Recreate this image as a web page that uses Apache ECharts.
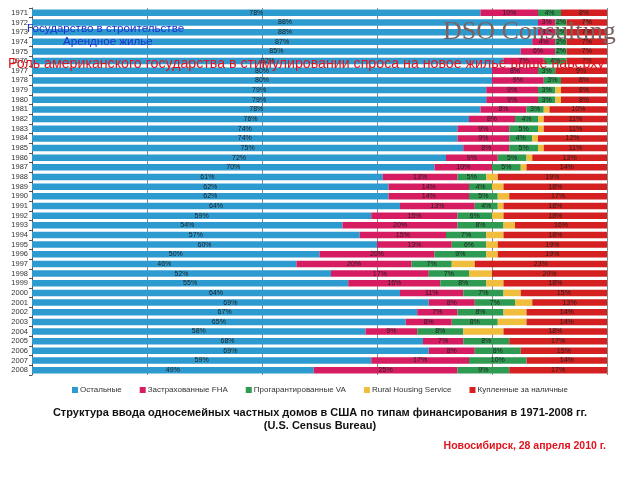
<!DOCTYPE html>
<html>
<head>
<meta charset="utf-8">
<script src="https://cdn.jsdelivr.net/npm/echarts@6/dist/echarts.min.js"></script>
<style>html,body{margin:0;padding:0;background:#fff}#c{width:640px;height:480px}</style>
</head>
<body>
<div id="c"></div>
<script>
var years = ['1971','1972','1973','1974','1975','1976','1977','1978','1979','1980','1981','1982','1983','1984','1985','1986','1987','1988','1989','1990','1991','1992','1993','1994','1995','1996','1997','1998','1999','2000','2001','2002','2003','2004','2005','2006','2007','2008'];
var other = [78,88,88,87,85,82,80,80,79,79,78,76,74,74,75,72,70,61,62,62,64,59,54,57,60,50,46,52,55,64,69,67,65,58,68,69,59,49];
var fha   = [10,3,3,4,6,7,8,9,9,9,8,8,9,9,8,9,10,13,14,14,13,15,20,15,13,20,20,17,16,11,8,7,8,9,7,8,17,25];
var va    = [4,2,2,2,2,4,3,3,3,3,3,4,5,4,5,5,5,5,4,5,4,6,8,7,6,9,7,7,8,7,7,8,8,8,8,8,10,9];
var rural = [0,0,0,0,0,0,0,0,1,1,1,1,1,1,1,1,1,2,2,2,1,2,2,3,2,2,4,4,3,3,3,4,5,7,0,0,0,0];
var cash  = [8,7,7,7,7,7,9,8,8,8,10,11,11,12,11,13,14,19,18,17,18,18,16,18,19,19,23,20,18,15,13,14,14,18,17,15,14,17];
var seriesNames = ['Остальные','Застрахованные FHA','Прогарантированные VA','Rural Housing Service','Купленные за наличные'];
var colors = ['#2E9BD0','#D61D62','#2F9A52','#F0BD3C','#D42020'];

var chart = echarts.init(document.getElementById('c'));
var lbl = {show:true, position:'inside', formatter:function(p){return p.value>0?p.value+'%':'';}, fontSize:7, color:'#222', fontFamily:'Arial'};
var dataSets = [other,fha,va,rural,cash];
var series = dataSets.map(function(d,i){
  return {
    name: seriesNames[i], type:'bar', stack:'total', data:d, barWidth:6.5,
    itemStyle:{color:colors[i]},
    label: i===3 ? {show:false} : lbl,
    emphasis:{disabled:true}
  };
});
chart.setOption({
  animation:false,
  color:colors,
  grid:{left:32,right:33,top:8,bottom:105},
  xAxis:{type:'value',min:0,max:100,interval:20,axisLabel:{show:false},axisLine:{show:false},axisTick:{show:false},
    splitLine:{show:true,lineStyle:{color:'#888',width:1}}},
  yAxis:{type:'category',data:years,inverse:true,
    axisLine:{show:true,lineStyle:{color:'#555'}},axisTick:{show:true,length:3,interval:0,lineStyle:{color:'#555'}},
    axisLabel:{fontSize:7.5,color:'#333',fontFamily:'Arial',margin:4,interval:0}},
  legend:{top:381,left:'center',itemWidth:6,itemHeight:6,itemGap:18,icon:'rect',
    textStyle:{fontSize:8,color:'#333',fontFamily:'Arial',padding:[0,0,0,-3]},data:seriesNames},
  title:{text:'Структура ввода односемейных частных домов в США по типам финансирования в 1971-2008 гг.\n(U.S. Census Bureau)',
    left:'center',top:401,textStyle:{fontSize:11,fontWeight:'bold',color:'#111',fontFamily:'Arial',lineHeight:13,align:'center'}},
  graphic:[
    {type:'text',left:27,top:23,z:100,style:{text:'Государство в строительстве',fill:'#1f2fd0',font:'11.6px Arial'}},
    {type:'text',left:63,top:36,z:100,style:{text:'Арендное жилье',fill:'#1f2fd0',font:'11.6px Arial'}},
    {type:'text',left:443,top:19,z:100,style:{text:'DSO Consulting',fill:'#7a6262',font:'26px "Liberation Serif", serif'}},
    {type:'text',left:8,top:57,z:100,style:{text:'Роль американского государства в стимулировании спроса на новое жилье выше наверху',fill:'#e0141e',font:'14.2px Arial'}},
    {type:'text',right:34,top:441,z:100,style:{text:'Новосибирск, 28 апреля 2010 г.',fill:'#e0141e',font:'bold 10.5px Arial'}}
  ],
  series:series
});
</script>
</body>
</html>
